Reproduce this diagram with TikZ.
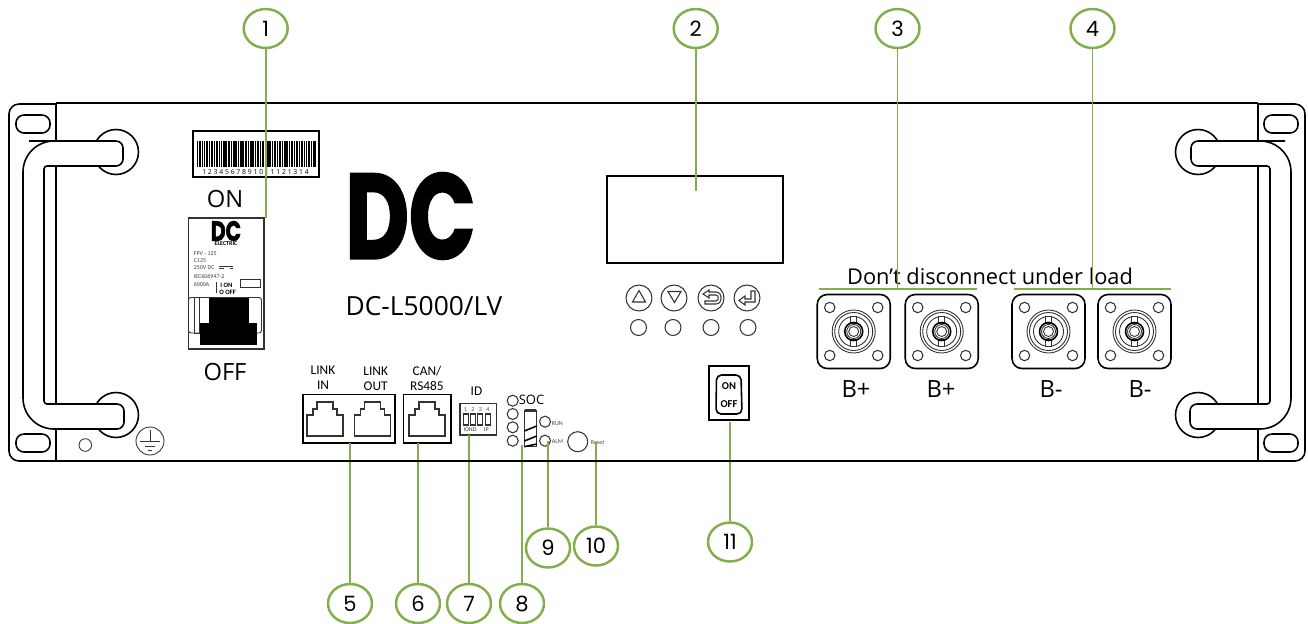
\documentclass[tikz,border=0pt]{standalone}
\usepackage{fontspec}
\setmainfont{Open Sans}
\newfontfamily\numfont{Poppins}
\newfontfamily\labelfont{Carlito}
\newfontfamily\logofont{Poppins}[BoldFeatures={FakeBold=1.6,FakeStretch=0.72}]
\usetikzlibrary{shapes.geometric}
\definecolor{leadgreen}{HTML}{82AE4C}
\tikzset{
  outline/.style={draw=black, line width=0.9pt},
  thinline/.style={draw=black!80, line width=0.5pt},
  callout/.style={ellipse, draw=leadgreen, line width=1.4pt, fill=white, inner sep=0pt,
    minimum width=0.88cm, minimum height=0.78cm, font=\numfont\fontsize{12}{12}\selectfont},
  leader/.style={draw=leadgreen, line width=1.1pt},
  bigtext/.style={inner sep=0pt, font=\fontsize{13.5}{14}\selectfont},
  porttext/.style={inner sep=0pt, font=\labelfont\fontsize{7.6}{8}\selectfont},
  tinytext/.style={inner sep=0pt, text=black!75, font=\labelfont\fontsize{3.4}{4}\selectfont},
  earside/.pic={
    \draw[outline, rounded corners=0.2cm] (56,104) -- (9,104) -- (9,461) -- (56,461);
    \draw[outline, rounded corners=0.16cm] (16,115) rectangle (50,133);
    \draw[outline, rounded corners=0.16cm] (16,434) rectangle (50,452);
    \draw[outline] (116,152) circle (22.5);
    \draw[outline] (116,415) circle (22.5);
  },
  handlebar/.pic={
    \draw[outline, fill=white, rounded corners=0.14cm] (60,141) -- (123,141) -- (123,166)
      [rounded corners=0.06cm] -- (44,166) -- (44,404)
      [rounded corners=0.14cm] -- (124,404) -- (124,429)
      [rounded corners=0.62cm] -- (23,429) -- (23,141) -- cycle;
  },
  rjport/.pic={
    \draw[thinline, line width=0.6pt] (-18,18) -- (-18,-3) -- (-12,-3) -- (-12,-9) -- (-8,-9) -- (-8,-16)
      -- (8,-16) -- (8,-9) -- (12,-9) -- (12,-3) -- (18,-3) -- (18,18) -- cycle;
  },
  terminal/.pic={
    \draw[outline, rounded corners=0.2cm] (-36.5,-37) rectangle (36.5,37);
    \foreach \sx in {-24,24} \foreach \sy in {-24,24}
      \draw[thinline, line width=0.6pt] (\sx,\sy) circle (5.2);
    \foreach \rad in {21.5,19,15}
      \draw[thinline] (0,0) circle (\rad);
    \fill[white] (-3,-15) rectangle (3,15);
    \draw[thinline] (-3,-15) rectangle (3,-8);
    \draw[thinline] (-3,8) rectangle (3,15);
    \draw[outline] (0,0) circle (9);
    \draw[thinline] (0,0) circle (7);
    \draw[thinline] (0,0) circle (5);
  }
}

\begin{document}
\begin{tikzpicture}[x=0.02cm, y=-0.02cm]
  \useasboundingbox (0,0) rectangle (1308,623);

  % ---- Rack ears, panel and handles ----
  \pic at (0,0) {earside};
  \pic[xscale=-1] at (1314,0) {earside};
  \draw[outline] (56,103) -- (1258,103);
  \draw[outline] (56,103) -- (56,461);
  \draw[outline] (1258,103) -- (1258,461);
  \pic at (0,0) {handlebar};
  \pic[xscale=-1] at (1314,0) {handlebar};

  % ---- Earth and screw ----
  \draw[thinline] (85.3,445) circle (6.3);
  \draw[thinline] (150,441) circle (14);
  \draw[thinline] (150,430) -- (150,441.7);
  \draw[thinline] (140,441.7) -- (160,441.7);
  \draw[thinline] (145,446) -- (155,446);
  \draw[thinline] (148,450) -- (152,450);

  % ---- Barcode ----
  \draw[outline] (193,131) rectangle (319,177);
  \pgfmathsetseed{11}
  \foreach \x in {197,198.7,...,315} {
    \pgfmathsetmacro\barw{0.5+rnd*1.1}
    \fill[black] (\x,141) rectangle (\x+\barw,167);
  }
  \node[inner sep=0pt, font=\fontsize{3.9}{4}\selectfont] (codetext) at (255.5,172)
    {1 2 3 4 5 6 7 8 9 1 0 1 1 1 2 1 3 1 4};
  \node[bigtext] (ontext) at (225,199) {ON};
  \node[bigtext] (offtext) at (225,372) {OFF};

  % ---- Breaker ----
  \draw[thinline, line width=0.8pt] (188.5,218) rectangle (264,349);
  \node[inner sep=0pt, font=\logofont\bfseries\fontsize{16}{16}\selectfont] (minilogo) at (226,231) {DC};
  \node[inner sep=0pt, font=\labelfont\bfseries\fontsize{3.4}{4}\selectfont] (minisub) at (226,244) {ELECTRIC};
  \foreach \y/\txt/\nm in {254/FPV - 125/fa, 261/C125/fb, 268/250V DC/fc, 276/IEC606947-2/fd, 284/6000A/fe}
    \node[tinytext, anchor=west] (\nm) at (193.5,\y) {\txt};
  \draw[thinline, dashed, line width=0.3pt] (219,268) -- (233,268);
  \draw[thinline, line width=0.3pt] (219,266.5) -- (233,266.5);
  \draw[thinline] (240.7,279) rectangle (260,287);
  \draw[thinline, line width=0.7pt] (216.7,282) -- (216.7,293);
  \node[tinytext, anchor=west, text=black, font=\labelfont\bfseries\fontsize{3.8}{4}\selectfont] (swon) at (220,285) {I ON};
  \node[tinytext, anchor=west, text=black, font=\labelfont\bfseries\fontsize{3.8}{4}\selectfont] (swoff) at (219,292) {O OFF};
  \draw[thinline, rounded corners=0.05cm] (188.5,297.5) rectangle (261.5,333);
  \draw[thinline] (194,297.5) rectangle (199,333);
  \fill[black] (209,297.5) rectangle (249,323);
  \fill[black] (200,323) rectangle (257,345);

  % ---- Logo and model ----
  \node[inner sep=0pt, font=\logofont\bfseries\fontsize{69}{69}\selectfont] (logo) at (410.5,216) {DC};
  \node[inner sep=0pt, font=\fontsize{15}{16}\selectfont] (model) at (424,306) {DC-L5000/LV};

  % ---- Display and buttons ----
  \draw[outline] (607,176) rectangle (783,263);
  \foreach \x/\nm in {639/ba, 674/bb, 711/bc, 747/bd}
    \draw[thinline, line width=0.6pt] (\x,298) circle (13);
  \foreach \x/\nm in {638.5/la, 673/lb, 711/lc, 748/ld}
    \draw[thinline, line width=0.6pt] (\x,327.5) circle (8);
  \draw[thinline, line width=0.6pt] (639,290.5) -- (632.5,302) -- (645.5,302) -- cycle;
  \draw[thinline, line width=0.6pt] (674.5,302.5) -- (668,291.5) -- (681,291.5) -- cycle;
  \draw[thinline, line width=0.6pt] (703,294) -- (709,290) -- (709,292) -- (716,292)
    .. controls (723,292) and (723,304) .. (716,304) -- (705,304) -- (705,301) -- (716,301)
    .. controls (719,301) and (719,295) .. (716,295) -- (709,295) -- (709,298) -- cycle;
  \draw[thinline, line width=0.6pt] (755,291) -- (755,302) -- (745,302) -- (745,305) -- (739,300.5)
    -- (745,296) -- (745,299) -- (751,299) -- (751,291) -- cycle;

  % ---- Rocker switch ----
  \draw[outline] (709,366) rectangle (749,420);
  \draw[outline, rounded corners=0.1cm] (716.5,375) -- (741,375) -- (742,414) -- (716,414) -- cycle;
  \node[inner sep=0pt, font=\labelfont\bfseries\fontsize{6}{6}\selectfont] (rockon) at (729,386.5) {ON};
  \node[inner sep=0pt, font=\labelfont\bfseries\fontsize{6}{6}\selectfont] (rockoff) at (729,404) {OFF};

  % ---- Ports ----
  \draw[outline] (303,394.5) rectangle (395,443);
  \draw[outline] (403.5,394.5) rectangle (451,443);
  \pic at (325,418) {rjport};
  \pic at (372.7,418) {rjport};
  \pic at (427,418) {rjport};
  \node[porttext] (linka) at (323,370) {LINK};
  \node[porttext] (ina) at (323,385) {IN};
  \node[porttext] (linkb) at (375.7,371) {LINK};
  \node[porttext] (outb) at (375.7,386) {OUT};
  \node[porttext] (cantext) at (427,371) {CAN/};
  \node[porttext] (rstext) at (427,386) {RS485};

  % ---- ID switch ----
  \node[porttext] (idtext) at (476.5,391.5) {ID};
  \draw[thinline, line width=0.8pt] (460,403.5) rectangle (496.7,435);
  \foreach \x/\d in {465.7/1, 473/2, 480.3/3, 488/4} {
    \node[tinytext] (dip\d) at (\x,410) {\d};
    \draw[thinline, line width=0.6pt] (\x-2.4,414) rectangle (\x+2.4,425);
  }
  \node[tinytext] (iond) at (470,430) {IOND};
  \node[tinytext] (iptext) at (486.5,430) {IP};

  % ---- SOC lamps, pack, reset ----
  \foreach \y in {400.7,414,427.3,440.7}
    \draw[thinline, line width=0.6pt] (512.7,\y) circle (5.5);
  \node[porttext, font=\fontsize{7.4}{8}\selectfont] (soctext) at (531.5,400) {SOC};
  \draw[thinline, line width=0.6pt] (524.3,411) rectangle (536.7,446.7);
  \draw[thinline, line width=0.7pt] (526,409.5) rectangle (535,411);
  \draw[line width=0.9pt] (524.3,431) -- (536.7,426);
  \draw[line width=0.9pt] (524.3,441) -- (536.7,436);
  \draw[line width=0.9pt] (524.3,446.7) -- (536.7,444);
  \draw[thinline, line width=0.6pt] (545,421.7) circle (5.5);
  \draw[thinline, line width=0.6pt] (545,440.7) circle (5.5);
  \node[tinytext, anchor=west] (runtext) at (551.5,424) {RUN};
  \node[tinytext, anchor=west] (almtext) at (551.5,442) {ALM};
  \draw[thinline, line width=0.6pt] (577.7,441.7) circle (10);
  \node[tinytext, anchor=west] (resettext) at (590.5,443) {Reset};

  % ---- Power terminals ----
  \node[inner sep=0pt, font=\fontsize{12.4}{13}\selectfont] (warntext) at (990,276) {Don't disconnect under load};
  \draw[leader] (819,289) -- (977,289);
  \draw[leader] (1014,289) -- (1171,289);
  \pic at (853.7,331.5) {terminal};
  \pic at (941.7,331.5) {terminal};
  \pic at (1048.5,331.5) {terminal};
  \pic at (1134.5,331.5) {terminal};
  \node[bigtext] (bpa) at (856,389) {B+};
  \node[bigtext] (bpb) at (941,389) {B+};
  \node[bigtext] (bma) at (1051,389) {B-};
  \node[bigtext] (bmb) at (1140,389) {B-};

  % ---- Numbered callouts ----
  \node[callout] (n1) at (265.7,28.5) {1};
  \node[callout] (n2) at (695.7,28.5) {2};
  \node[callout] (n3) at (897.5,28.5) {3};
  \node[callout] (n4) at (1092.5,28.5) {4};
  \node[callout] (n5) at (350,603.5) {5};
  \node[callout] (n6) at (418,603.5) {6};
  \node[callout] (n7) at (469,603.5) {7};
  \node[callout] (n8) at (522,603.5) {8};
  \node[callout] (n9) at (548,548) {9};
  \node[callout] (n10) at (596,546) {10};
  \node[callout] (n11) at (730,542) {11};

  \coordinate (t1) at (265.7,218);
  \coordinate (t2) at (695.7,191);
  \coordinate (t3) at (897.5,289);
  \coordinate (t4) at (1092.5,289);
  \coordinate (t5) at (350,443);
  \coordinate (t6) at (418,443);
  \coordinate (t7) at (469,435);
  \coordinate (t8) at (522,445);
  \coordinate (t9) at (548,441);
  \coordinate (t10) at (596,442);
  \coordinate (t11) at (730,422);
  \foreach \k in {1,...,11}
    \draw[leader] (n\k) -- (t\k);
  \draw[outline] (56,461) -- (1258,461);

\end{tikzpicture}
\end{document}
